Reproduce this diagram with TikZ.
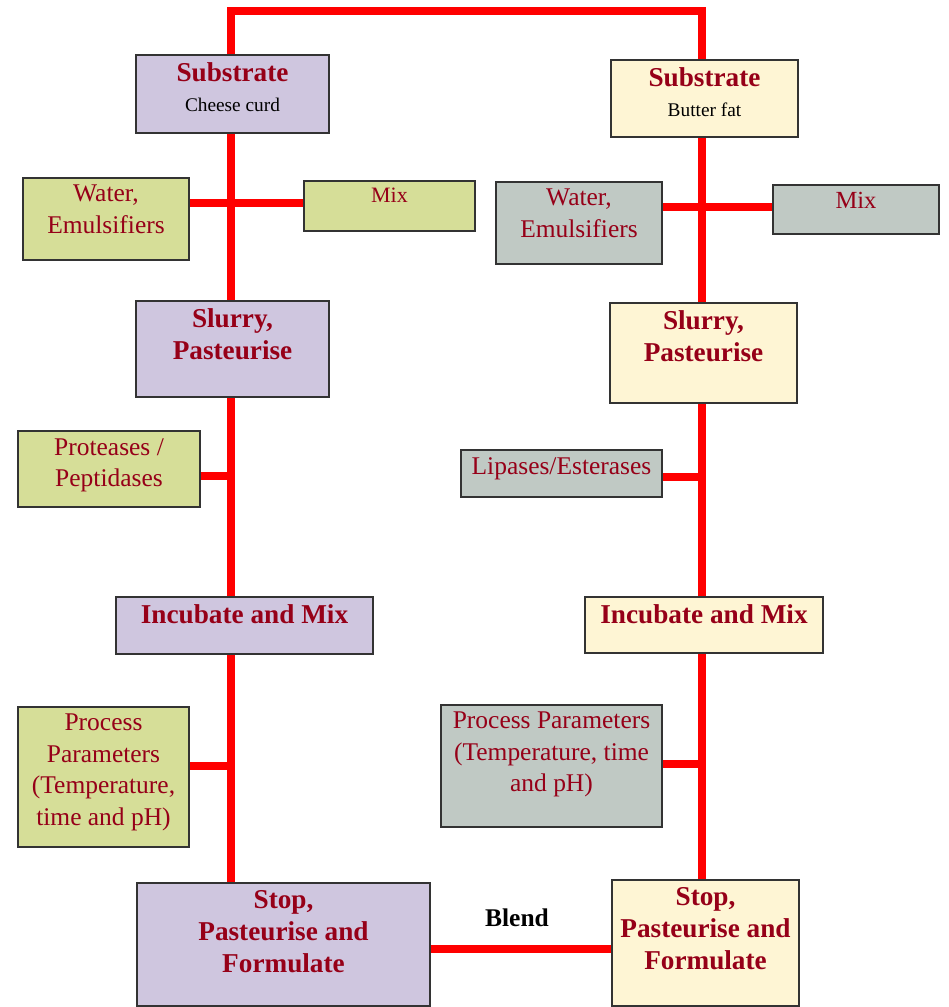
\documentclass[tikz,border=0pt]{standalone}
\usepackage{fontspec}
\setmainfont{Liberation Serif}
\usetikzlibrary{backgrounds}

\definecolor{lavbox}{HTML}{CFC6DF}
\definecolor{olivebox}{HTML}{D6DE98}
\definecolor{creambox}{HTML}{FEF5D4}
\definecolor{greybox}{HTML}{C0C9C4}
\definecolor{darkred}{HTML}{960018}

\tikzset{
	box/.style={draw=black!80, line width=0.6pt, rectangle, inner sep=0pt},
	boxsize/.style 2 args={minimum width=#1*0.02cm, minimum height=#2*0.02cm},
	txt/.style={text=darkred, align=center, inner sep=2pt, yshift=-2.2pt, anchor=north, font=\fontsize{14.5}{17.9}\selectfont},
	head/.style={txt, font=\bfseries\fontsize{15.5}{18.4}\selectfont},
	link/.style={red, line width=5.1pt}
}

\begin{document}
\begin{tikzpicture}[x=0.02cm, y=-0.02cm]

	\useasboundingbox (0,0) rectangle (949,1007);

	% Boxes, cheese curd side
	\node[box, fill=lavbox,   boxsize={193}{78}]  (sub1)    at (232.5,94)  {};
	\node[box, fill=olivebox, boxsize={166}{82}]  (water1)  at (106,219)   {};
	\node[box, fill=olivebox, boxsize={171}{50}]  (mix1)    at (389.5,206) {};
	\node[box, fill=lavbox,   boxsize={193}{96}]  (slurry1) at (232.5,349) {};
	\node[box, fill=olivebox, boxsize={182}{76}]  (prot1)   at (109,469)   {};
	\node[box, fill=lavbox,   boxsize={257}{57}]  (incub1)  at (244.5,625.5) {};
	\node[box, fill=olivebox, boxsize={171}{140}] (param1)  at (103.5,777) {};
	\node[box, fill=lavbox,   boxsize={293}{123}] (stop1)   at (283.5,944.5) {};

	% Boxes, butter fat side
	\node[box, fill=creambox, boxsize={187}{77}]  (sub2)    at (704.5,98.5) {};
	\node[box, fill=greybox,  boxsize={166}{82}]  (water2)  at (579,223)   {};
	\node[box, fill=greybox,  boxsize={166}{49}]  (mix2)    at (856,209.5) {};
	\node[box, fill=creambox, boxsize={187}{100}] (slurry2) at (703.5,353) {};
	\node[box, fill=greybox,  boxsize={201}{47}]  (lip2)    at (561.5,473.5) {};
	\node[box, fill=creambox, boxsize={238}{56}]  (incub2)  at (704,625)   {};
	\node[box, fill=greybox,  boxsize={221}{122}] (param2)  at (551.5,766) {};
	\node[box, fill=creambox, boxsize={187}{126}] (stop2)   at (705.5,943) {};

	% Texts
	\node[head] (sub1t) at (sub1.north) {Substrate\\[-1pt]{\mdseries\color{black}\fontsize{11}{13}\selectfont Cheese curd}};
	\node[txt] (water1t) at (water1.north) {Water,\\Emulsifiers};
	\node[txt, font=\fontsize{12.5}{15}\selectfont] (mix1t) at (mix1.north) {Mix};
	\node[head] (slurry1t) at (slurry1.north) {Slurry,\\Pasteurise};
	\node[txt] (prot1t) at (prot1.north) {Proteases /\\Peptidases};
	\node[head] (incub1t) at (incub1.north) {Incubate and Mix};
	\node[txt] (param1t) at (param1.north) {Process\\Parameters\\(Temperature,\\time and pH)};
	\node[head] (stop1t) at (stop1.north) {Stop,\\Pasteurise and\\Formulate};

	\node[head] (sub2t) at (sub2.north) {Substrate\\[-1pt]{\mdseries\color{black}\fontsize{11}{13}\selectfont Butter fat}};
	\node[txt] (water2t) at (water2.north) {Water,\\Emulsifiers};
	\node[txt, font=\fontsize{14}{16}\selectfont] (mix2t) at (mix2.north) {Mix};
	\node[head] (slurry2t) at (slurry2.north) {Slurry,\\Pasteurise};
	\node[txt] (lip2t) at (lip2.north) {Lipases/Esterases};
	\node[head] (incub2t) at (incub2.north) {Incubate and Mix};
	\node[txt] (param2t) at (param2.north) {Process Parameters\\(Temperature, time\\and pH)};
	\node[head] (stop2t) at (stop2.north) {Stop,\\Pasteurise and\\Formulate};

	\node[font=\bfseries\fontsize{14.5}{17}\selectfont] (blend) at (517,918) {Blend};

	% Lines
	\coordinate (topL) at (231,11);
	\coordinate (topR) at (702,11);
	\coordinate (jw1) at (231,203);
	\coordinate (jp1) at (231,476);
	\coordinate (jq1) at (231,766);
	\coordinate (jw2) at (702,207);
	\coordinate (jl2) at (702,477);
	\coordinate (jq2) at (702,764);
	\coordinate (jb) at (431,949);

	\begin{scope}[on background layer]
		\draw[link] (sub1.north -| topL) -- (topL) -- (topR) -- (sub2.north -| topR);
		\draw[link] (sub1.south -| topL) -- (stop1.north -| topL);
		\draw[link] (sub2.south -| topR) -- (stop2.north -| topR);
		\draw[link] (water1.east |- jw1) -- (mix1.west |- jw1);
		\draw[link] (prot1.east |- jp1) -- (jp1);
		\draw[link] (param1.east |- jq1) -- (jq1);
		\draw[link] (water2.east |- jw2) -- (mix2.west |- jw2);
		\draw[link] (lip2.east |- jl2) -- (jl2);
		\draw[link] (param2.east |- jq2) -- (jq2);
		\draw[link] (stop1.east |- jb) -- (stop2.west |- jb);
	\end{scope}

\end{tikzpicture}
\end{document}
